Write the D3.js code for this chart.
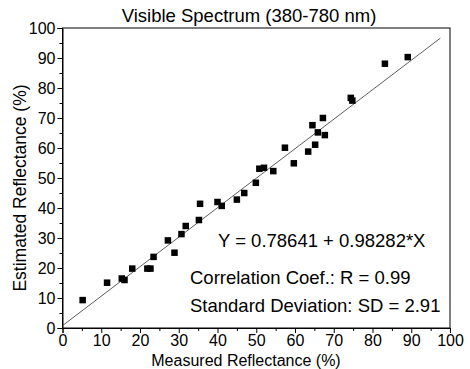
<!DOCTYPE html>
<html>
<head>
<meta charset="utf-8">
<script src="https://cdn.jsdelivr.net/npm/d3@7"></script>
<style>
  body { margin: 0; background: #fff; }
  text { font-family: "Liberation Sans", Arial, sans-serif; fill: #000; }
</style>
</head>
<body>
<div id="chart"></div>
<script>
// measured vs estimated reflectance (%)
var measured  = [5.2, 11.5, 15.3, 16.0, 18.0, 21.9, 22.7, 23.5, 27.2, 28.9, 30.7, 31.8, 35.2, 35.5,
                 40.0, 41.1, 45.0, 46.9, 49.9, 50.8, 52.0, 54.4, 57.4, 59.7, 63.4, 64.5, 65.2, 65.9,
                 67.2, 67.7, 74.4, 74.8, 83.2, 89.1];
var estimated = [9.3, 15.1, 16.5, 16.0, 19.8, 19.8, 19.8, 23.7, 29.2, 25.1, 31.3, 34.0, 36.0, 41.4,
                 42.0, 40.7, 42.8, 45.0, 48.4, 53.1, 53.4, 52.3, 60.1, 54.9, 58.8, 67.6, 61.1, 65.2,
                 70.0, 64.3, 76.7, 75.8, 88.1, 90.3];
var tickVals = [0, 10, 20, 30, 40, 50, 60, 70, 80, 90, 100];
var fitA = 0.78641, fitB = 0.98282;
var fitRange = [0, 97.5];
var notes = ["Y = 0.78641 + 0.98282*X", "Correlation Coef.: R = 0.99", "Standard Deviation: SD = 2.91"];

var svg_width = 470, svg_height = 369;
var pLeft = 62.5, pRight = 450, pTop = 28, pBottom = 328;

var svg = d3.select("#chart").append("svg")
  .attr("width", svg_width)
  .attr("height", svg_height);

var x = d3.scaleLinear().domain([0, 100]).range([pLeft, pRight]);
var y = d3.scaleLinear().domain([0, 100]).range([pBottom, pTop]);

// frame
svg.append("rect")
  .attr("x", pLeft).attr("y", pTop)
  .attr("width", pRight - pLeft).attr("height", pBottom - pTop)
  .attr("fill", "none").attr("stroke", "#000").attr("stroke-width", 1);

// minor ticks
var minor = d3.range(5, 100, 10);
var xMinor = svg.append("g").attr("transform", "translate(0," + pBottom + ")")
  .call(d3.axisBottom(x).tickValues(minor).tickSize(3).tickFormat(""));
xMinor.select(".domain").remove();
var yMinor = svg.append("g").attr("transform", "translate(" + pLeft + ",0)")
  .call(d3.axisLeft(y).tickValues(minor).tickSize(3).tickFormat(""));
yMinor.select(".domain").remove();

var xAxis = svg.append("g").attr("transform", "translate(0," + pBottom + ")")
  .call(d3.axisBottom(x).tickValues(tickVals).tickSize(5).tickPadding(2));
var yAxis = svg.append("g").attr("transform", "translate(" + pLeft + ",0)")
  .call(d3.axisLeft(y).tickValues(tickVals).tickSize(5).tickPadding(2));
svg.selectAll(".domain").attr("stroke", "#000");
svg.selectAll(".tick text").style("font-size", "16px").attr("font-family", null);
svg.selectAll(".tick line").attr("stroke", "#000");

// fit line
svg.append("line")
  .attr("x1", x(fitRange[0])).attr("y1", y(fitA + fitB * fitRange[0]))
  .attr("x2", x(fitRange[1])).attr("y2", y(fitA + fitB * fitRange[1]))
  .attr("stroke", "#333").attr("stroke-width", 0.8);

// points
var sq = 6.5;
svg.selectAll("rect.pt")
  .data(measured)
  .enter()
  .append("rect")
  .attr("class", "pt")
  .attr("x", function(d){ return x(d) - sq / 2; })
  .attr("y", function(d, i){ return y(estimated[i]) - sq / 2; })
  .attr("width", sq).attr("height", sq)
  .attr("fill", "#000");

// titles
svg.append("text").attr("x", 249).attr("y", 22)
  .attr("text-anchor", "middle").style("font-size", "18.5px")
  .text("Visible Spectrum (380-780 nm)");
svg.append("text").attr("x", 246).attr("y", 366)
  .attr("text-anchor", "middle").style("font-size", "16px")
  .text("Measured Reflectance (%)");
svg.append("text")
  .attr("transform", "translate(26,188) rotate(-90)")
  .attr("text-anchor", "middle").style("font-size", "17.5px")
  .text("Estimated Reflectance (%)");

// annotations
var noteX = [218, 190, 190], noteY = [247, 284, 312];
svg.selectAll("text.note")
  .data(notes)
  .enter()
  .append("text")
  .attr("class", "note")
  .attr("x", function(d, i){ return noteX[i]; })
  .attr("y", function(d, i){ return noteY[i]; })
  .style("font-size", "18.5px")
  .text(function(d){ return d; });
</script>
</body>
</html>
